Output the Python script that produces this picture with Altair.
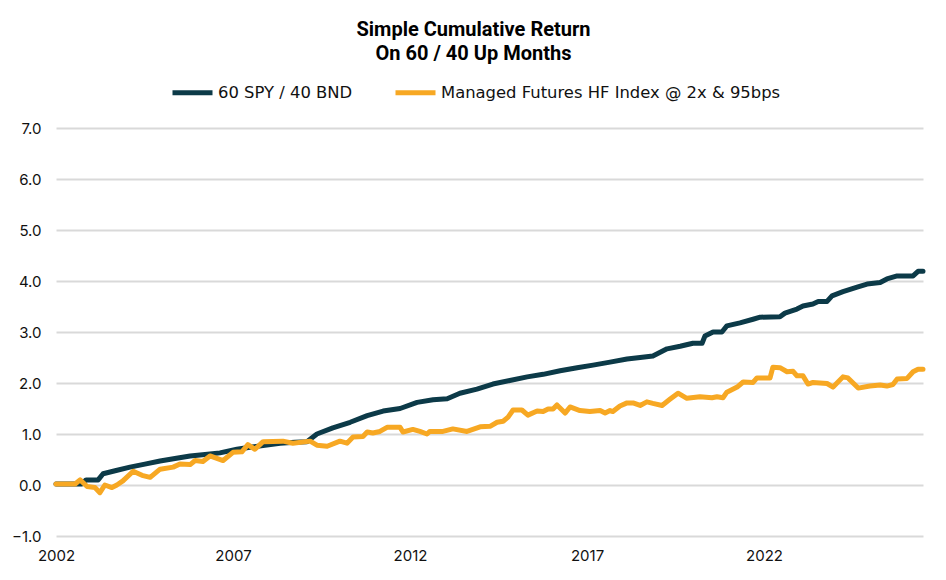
import altair as alt
import pandas as pd

SERIES_A = "60 SPY / 40 BND"
SERIES_B = "Managed Futures HF Index @ 2x & 95bps"

# 60/40 cumulative simple return on up months (decimal year, value)
a_years = [2002.00, 2002.73, 2002.85, 2003.19, 2003.33, 2003.67, 2004.09, 2004.51,
           2004.94, 2005.36, 2005.79, 2006.21, 2006.63, 2007.11, 2007.48, 2007.90,
           2008.33, 2008.75, 2009.09, 2009.37, 2009.82, 2010.31, 2010.79, 2011.24,
           2011.72, 2012.20, 2012.65, 2013.05, 2013.41, 2013.89, 2014.34, 2014.82,
           2015.31, 2015.76, 2016.24, 2016.72, 2017.17, 2017.65, 2018.13, 2018.50,
           2018.86, 2019.26, 2019.63, 2019.99, 2020.25, 2020.33, 2020.56, 2020.81,
           2020.95, 2021.32, 2021.69, 2021.89, 2022.45, 2022.59, 2022.93, 2023.10,
           2023.38, 2023.53, 2023.78, 2023.92, 2024.23, 2024.63, 2024.91, 2025.28,
           2025.47, 2025.76, 2026.21, 2026.35, 2026.49]
a_vals = [0.02, 0.02, 0.10, 0.10, 0.22, 0.28, 0.35, 0.41,
          0.47, 0.52, 0.57, 0.60, 0.63, 0.70, 0.74, 0.78,
          0.82, 0.84, 0.85, 1.00, 1.12, 1.23, 1.36, 1.45,
          1.50, 1.62, 1.67, 1.69, 1.80, 1.88, 1.98, 2.05,
          2.12, 2.17, 2.24, 2.30, 2.35, 2.41, 2.47, 2.50,
          2.53, 2.67, 2.72, 2.78, 2.78, 2.92, 3.00, 3.00,
          3.12, 3.18, 3.25, 3.29, 3.30, 3.37, 3.45, 3.51,
          3.55, 3.60, 3.60, 3.71, 3.79, 3.88, 3.94, 3.97,
          4.04, 4.10, 4.10, 4.19, 4.19]

# Managed futures HF index cumulative simple return on 60/40 up months
b_years = [2002.00, 2002.54, 2002.68, 2002.88, 2003.10, 2003.24, 2003.38, 2003.58,
           2003.72, 2003.89, 2004.18, 2004.43, 2004.66, 2004.94, 2005.31, 2005.50,
           2005.79, 2005.93, 2006.15, 2006.35, 2006.72, 2007.00, 2007.25, 2007.42,
           2007.62, 2007.85, 2008.41, 2008.69, 2009.18, 2009.37, 2009.66, 2010.02,
           2010.22, 2010.39, 2010.67, 2010.79, 2010.95, 2011.15, 2011.35, 2011.72,
           2011.80, 2012.08, 2012.28, 2012.48, 2012.56, 2012.93, 2013.21, 2013.61,
           2013.98, 2014.26, 2014.46, 2014.63, 2014.77, 2014.91, 2015.16, 2015.33,
           2015.59, 2015.76, 2015.90, 2016.04, 2016.15, 2016.38, 2016.52, 2016.80,
           2017.08, 2017.37, 2017.51, 2017.65, 2017.73, 2017.93, 2018.13, 2018.30,
           2018.50, 2018.69, 2018.86, 2019.12, 2019.34, 2019.57, 2019.82, 2020.19,
           2020.53, 2020.67, 2020.84, 2020.95, 2021.24, 2021.41, 2021.69, 2021.80,
           2022.17, 2022.25, 2022.45, 2022.65, 2022.82, 2022.93, 2023.10, 2023.24,
           2023.38, 2023.58, 2023.78, 2023.95, 2024.23, 2024.37, 2024.66, 2024.99,
           2025.28, 2025.47, 2025.64, 2025.76, 2026.04, 2026.21, 2026.35, 2026.49]
b_vals = [0.02, 0.02, 0.10, -0.03, -0.05, -0.15, 0.00, -0.05,
          0.00, 0.08, 0.27, 0.19, 0.15, 0.31, 0.35, 0.41,
          0.40, 0.48, 0.46, 0.57, 0.48, 0.64, 0.65, 0.79,
          0.70, 0.85, 0.86, 0.82, 0.86, 0.78, 0.76, 0.86,
          0.82, 0.94, 0.95, 1.04, 1.02, 1.05, 1.13, 1.13,
          1.04, 1.09, 1.05, 1.00, 1.05, 1.05, 1.10, 1.05,
          1.14, 1.15, 1.23, 1.25, 1.33, 1.47, 1.47, 1.37,
          1.45, 1.44, 1.49, 1.49, 1.57, 1.41, 1.53, 1.46,
          1.44, 1.46, 1.41, 1.46, 1.44, 1.55, 1.61, 1.61,
          1.56, 1.63, 1.60, 1.56, 1.68, 1.80, 1.70, 1.73,
          1.71, 1.73, 1.71, 1.82, 1.92, 2.02, 2.01, 2.10,
          2.10, 2.31, 2.30, 2.22, 2.23, 2.14, 2.14, 1.98,
          2.01, 2.00, 1.99, 1.92, 2.12, 2.10, 1.90, 1.94,
          1.96, 1.94, 1.97, 2.08, 2.09, 2.22, 2.27, 2.27]

x_ticks = [2002, 2007, 2012, 2017, 2022]
y_ticks = [-1, 0, 1, 2, 3, 4, 5, 6, 7]

df = pd.concat([
    pd.DataFrame({"year": a_years, "value": a_vals, "series": SERIES_A}),
    pd.DataFrame({"year": b_years, "value": b_vals, "series": SERIES_B}),
], ignore_index=True)

chart = alt.Chart(df).mark_line(
    strokeWidth=5, strokeCap="round", strokeJoin="round"
).encode(
    x=alt.X("year:Q",
            scale=alt.Scale(domain=[2002, 2026.49], nice=False, zero=False),
            axis=alt.Axis(values=x_ticks, format="d", title=None, grid=False,
                          ticks=False, domain=False, labelFlush=False,
                          labelFont="Inter", labelFontSize=15, labelColor="#111111",
                          labelPadding=12)),
    y=alt.Y("value:Q",
            scale=alt.Scale(domain=[-1, 7], nice=False, zero=False),
            axis=alt.Axis(values=y_ticks, format=".1f", title=None, ticks=False,
                          domain=False, grid=True, gridColor="#d9d9d9", gridWidth=2,
                          labelFont="Inter", labelFontSize=15, labelColor="#111111",
                          labelPadding=15)),
    color=alt.Color("series:N",
                    scale=alt.Scale(domain=[SERIES_A, SERIES_B],
                                    range=["#0c3a48", "#f7a823"]),
                    legend=alt.Legend(orient="none", legendX=114, legendY=-58,
                                      direction="horizontal", title=None,
                                      symbolType="stroke", symbolSize=1600,
                                      symbolStrokeWidth=5, labelFont="DejaVu Sans",
                                      labelFontSize=16.4, labelColor="#111111",
                                      labelLimit=0,
                                      columnPadding=32, labelOffset=3, padding=0)),
).properties(
    width=867,
    height=408,
    title=alt.TitleParams(
        text=["Simple Cumulative Return", "On 60 / 40 Up Months"],
        font="Roboto", fontSize=20, fontWeight="bold", lineHeight=24,
        color="#000000", anchor="middle", dx=-16, offset=6,
    ),
    autosize=alt.AutoSizeParams(type="none"),
    padding={"left": 48, "top": 120, "right": 15, "bottom": 36},
).configure_view(stroke=None)

chart.save("out.html", embed_options={"renderer": "svg", "actions": False})
